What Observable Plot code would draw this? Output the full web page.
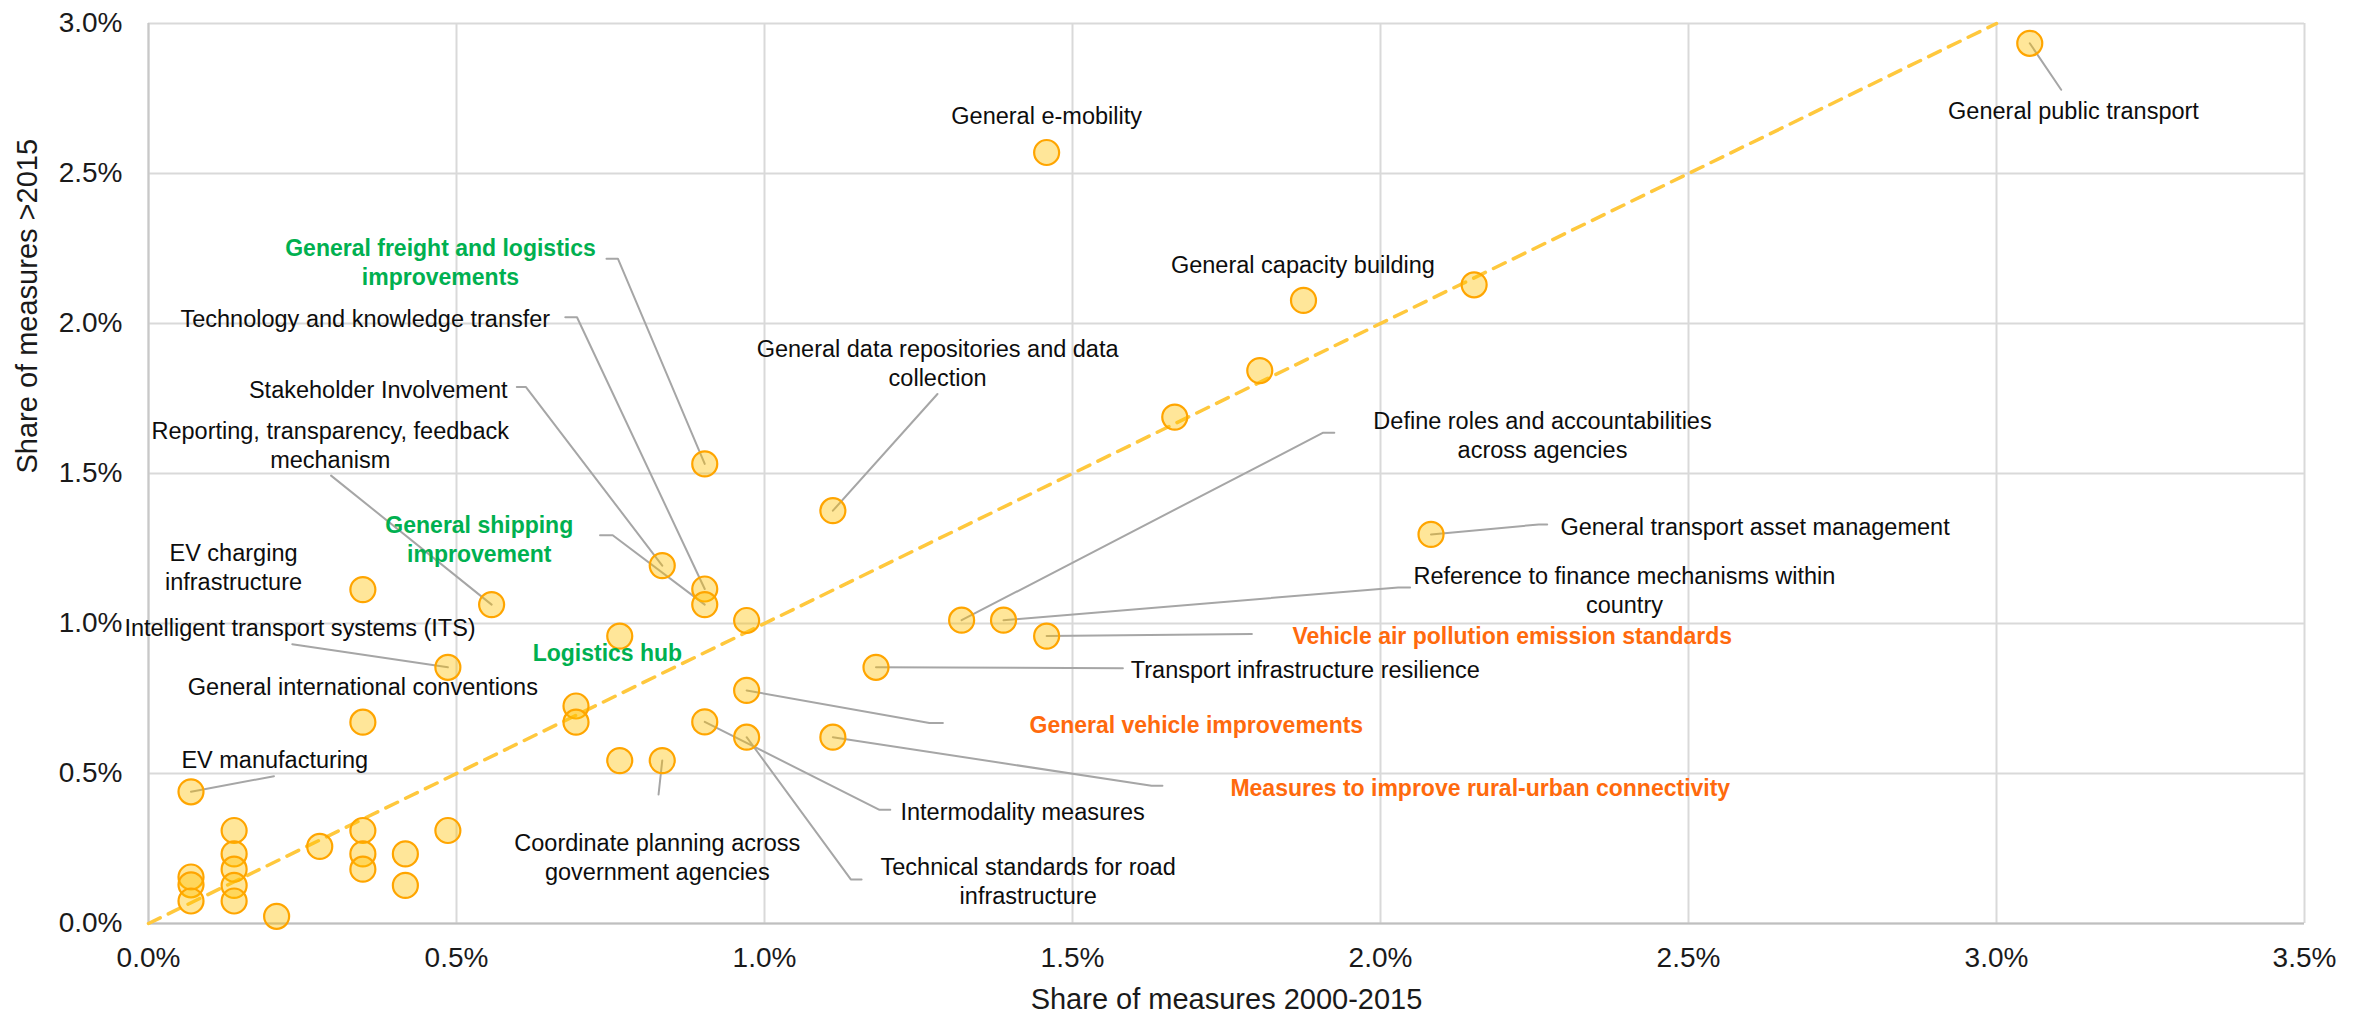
<!DOCTYPE html>
<html>
<head>
<meta charset="utf-8">
<script src="https://cdn.jsdelivr.net/npm/d3@7"></script>
<script src="https://cdn.jsdelivr.net/npm/@observablehq/plot@0.6"></script>
<style>
  html, body { margin: 0; padding: 0; background: #ffffff; }
  #chart svg { display: block; }
</style>
</head>
<body>
<div id="chart"></div>
<script>
// ---- Data (percent values) ----
const shareBefore2015 = [
  1.458, 3.054, 1.875, 2.152, 1.804, 1.666, 0.903, 1.111, 2.082, 0.834,
  0.903, 0.903, 0.971, 0.557, 0.348, 0.765, 1.320, 1.388, 1.458, 0.486,
  1.181, 0.971, 0.694, 0.694, 0.903, 0.348, 0.971, 1.111, 0.765, 0.834,
  0.069, 0.139, 0.139, 0.139, 0.139, 0.139, 0.069, 0.069, 0.069, 0.208,
  0.278, 0.348, 0.348, 0.348, 0.417, 0.417, 0.486
];
const shareAfter2015 = [
  2.570, 2.934, 2.077, 2.129, 1.843, 1.688, 1.532, 1.376, 1.297, 1.193,
  1.115, 1.063, 1.010, 1.063, 1.113, 0.958, 1.011, 1.011, 0.958, 0.854,
  0.854, 0.777, 0.725, 0.671, 0.672, 0.671, 0.621, 0.621, 0.543, 0.543,
  0.439, 0.310, 0.232, 0.181, 0.127, 0.075, 0.155, 0.129, 0.075, 0.024,
  0.257, 0.310, 0.232, 0.181, 0.232, 0.127, 0.310
];

const xTicks = [0, 0.5, 1.0, 1.5, 2.0, 2.5, 3.0, 3.5];
const yTicks = [0, 0.5, 1.0, 1.5, 2.0, 2.5, 3.0];
const parityLine = [0, 3.0];

// ---- Annotations (anchor positions in data units) ----
const labelTexts = [
  "General freight and logistics\nimprovements",
  "Technology and knowledge transfer",
  "Stakeholder Involvement",
  "Reporting, transparency, feedback\nmechanism",
  "General shipping\nimprovement",
  "EV charging\ninfrastructure",
  "Intelligent transport systems (ITS)",
  "General international conventions",
  "Logistics hub",
  "EV manufacturing",
  "Coordinate planning across\ngovernment agencies",
  "General e-mobility",
  "General capacity building",
  "General data repositories and data\ncollection",
  "Define roles and accountabilities\nacross agencies",
  "General transport asset management",
  "Reference to finance mechanisms within\ncountry",
  "Vehicle air pollution emission standards",
  "Transport infrastructure resilience",
  "General vehicle improvements",
  "Measures to improve rural-urban connectivity",
  "Intermodality measures",
  "Technical standards for road\ninfrastructure",
  "General public transport"
];
const labelX = [
  0.474, 0.352, 0.373, 0.295, 0.537, 0.138, 0.246, 0.348, 0.745, 0.205,
  0.826, 1.458, 1.874, 1.281, 2.263, 2.608, 2.396, 2.214, 1.878, 1.701,
  2.162, 1.419, 1.428, 3.125
];
const labelY = [
  2.209, 2.019, 1.784, 1.599, 1.284, 1.190, 0.991, 0.794, 0.905, 0.548,
  0.224, 2.695, 2.199, 1.871, 1.632, 1.325, 1.115, 0.962, 0.849, 0.666,
  0.455, 0.376, 0.144, 2.712
];
const labelGroup = [
  "green", "plain", "plain", "plain", "green", "plain", "plain", "plain", "green", "plain",
  "plain", "plain", "plain", "plain", "plain", "plain", "plain", "orange", "plain", "orange",
  "orange", "plain", "plain", "plain"
];

// Leader lines: label end -> (elbow) -> point
const leaderPaths = [
  [[0.7435, 2.216], [0.762, 2.216], [0.903, 1.532]],
  [[0.6766, 2.021], [0.6956, 2.021], [0.903, 1.115]],
  [[0.5979, 1.788], [0.6128, 1.788], [0.834, 1.193]],
  [[0.2964, 1.493], [0.557, 1.063]],
  [[0.733, 1.294], [0.7536, 1.294], [0.903, 1.063]],
  [[0.2334, 0.931], [0.486, 0.854]],
  [[0.2037, 0.491], [0.069, 0.439]],
  [[0.828, 0.430], [0.834, 0.543]],
  [[1.2808, 1.765], [1.111, 1.376]],
  [[1.925, 1.636], [1.907, 1.636], [1.320, 1.011]],
  [[2.2706, 1.330], [2.257, 1.330], [2.082, 1.297]],
  [[2.048, 1.120], [2.0287, 1.120], [1.388, 1.011]],
  [[1.7912, 0.965], [1.458, 0.958]],
  [[1.5818, 0.851], [1.181, 0.854]],
  [[1.2896, 0.668], [1.2677, 0.668], [0.971, 0.777]],
  [[1.646, 0.459], [1.6284, 0.459], [1.111, 0.621]],
  [[1.2042, 0.379], [1.1867, 0.379], [0.903, 0.672]],
  [[1.1576, 0.147], [1.1401, 0.147], [0.971, 0.621]],
  [[3.105, 2.779], [3.054, 2.934]]
];

// ---- Tables built from the arrays ----
const points = shareBefore2015.map((x, i) => ({x, y: shareAfter2015[i]}));
const labels = labelTexts.map((t, i) => ({text: t, x: labelX[i], y: labelY[i], group: labelGroup[i]}));
const leaders = leaderPaths.flatMap((path, id) => path.map(([x, y]) => ({id, x, y})));
const diag = parityLine.map(v => ({x: v, y: v}));
const pct = d => d.toFixed(1) + "%";

const FONT = "'Liberation Sans', Arial, sans-serif";

const chart = Plot.plot({
  width: 2369,
  height: 1018,
  marginLeft: 148,
  marginRight: 65,
  marginTop: 23,
  marginBottom: 95,
  x: {domain: [0, 3.5]},
  y: {domain: [0, 3]},
  style: {fontFamily: FONT, background: "#ffffff", overflow: "visible"},
  marks: [
    Plot.gridX(xTicks, {stroke: "#D9D9D9", strokeOpacity: 1, strokeWidth: 2}),
    Plot.gridY(yTicks, {stroke: "#D9D9D9", strokeOpacity: 1, strokeWidth: 2}),
    Plot.ruleY([0], {stroke: "#BFBFBF", strokeWidth: 2}),
    Plot.ruleX([0], {stroke: "#C8C8C8", strokeWidth: 2}),
    Plot.axisX(xTicks, {tickSize: 0, tickPadding: 24, tickFormat: pct, fontSize: 28, fill: "#1a1a1a", label: null}),
    Plot.axisY(yTicks, {tickSize: 0, tickPadding: 26, tickFormat: pct, fontSize: 28, fill: "#1a1a1a", label: null}),
    Plot.line(diag, {x: "x", y: "y", stroke: "#FFC83D", strokeWidth: 3.5, strokeDasharray: "13,9"}),
    Plot.line(leaders, {x: "x", y: "y", z: "id", stroke: "#A6A6A6", strokeWidth: 2}),
    Plot.dot(points, {x: "x", y: "y", r: 12.5, fill: "#FFC000", fillOpacity: 0.4, stroke: "#FFA500", strokeWidth: 2.2}),
    Plot.text(labels.filter(d => d.group === "plain"), {
      x: "x", y: "y", text: "text", fontSize: 23.5, lineHeight: 1.24, fill: "#0d0d0d"
    }),
    Plot.text(labels.filter(d => d.group === "green"), {
      x: "x", y: "y", text: "text", fontSize: 23, lineHeight: 1.27, fill: "#00B050", fontWeight: "bold"
    }),
    Plot.text(labels.filter(d => d.group === "orange"), {
      x: "x", y: "y", text: "text", fontSize: 23, lineHeight: 1.27, fill: "#FF6A0D", fontWeight: "bold"
    }),
    Plot.text(["Share of measures 2000-2015"], {frameAnchor: "bottom", dy: 85, fontSize: 29, fill: "#1a1a1a"}),
    Plot.text(["Share of measures >2015"], {frameAnchor: "left", dx: -121, rotate: -90, fontSize: 29, fill: "#1a1a1a"})
  ]
});

document.getElementById("chart").appendChild(chart);
</script>
</body>
</html>
